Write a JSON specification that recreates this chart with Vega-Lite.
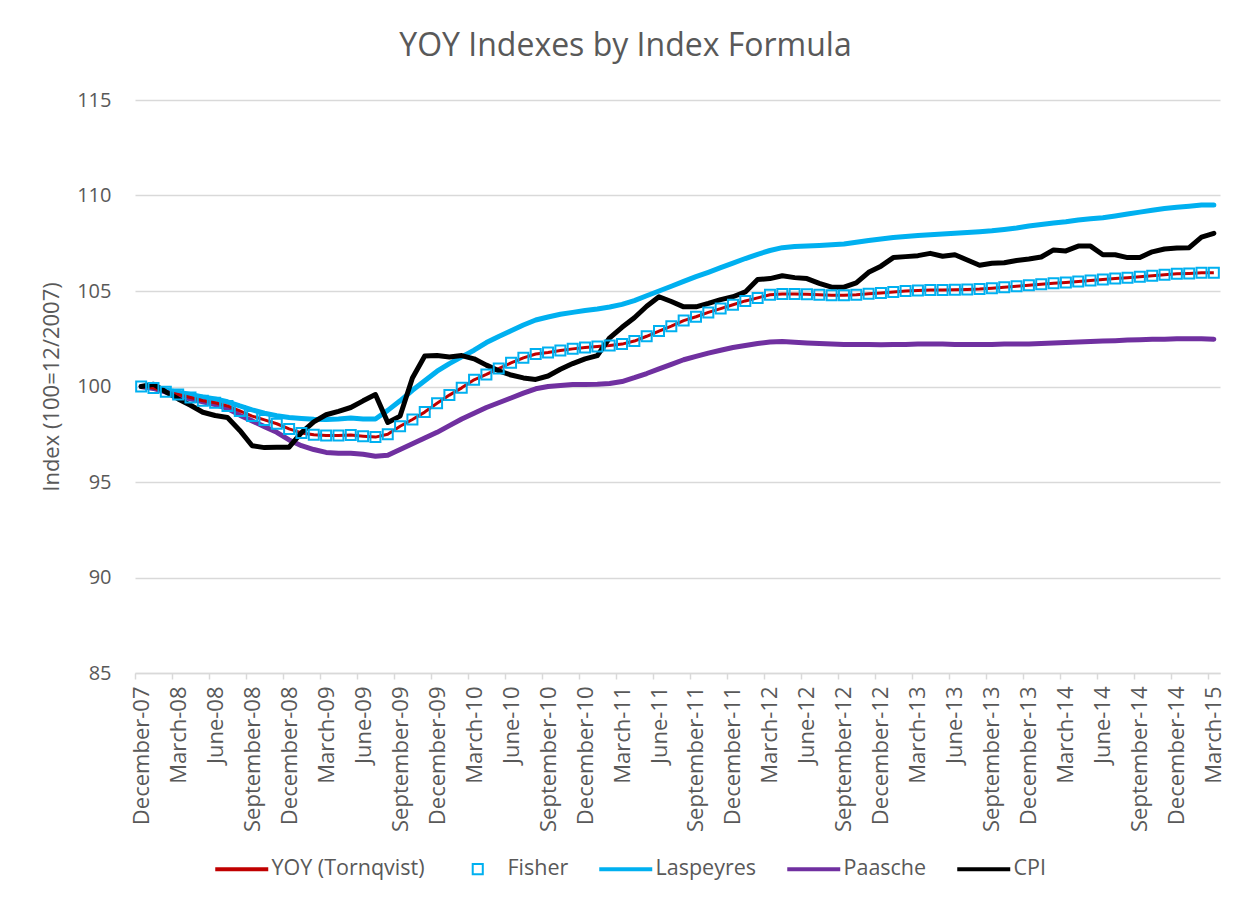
{
  "$schema": "https://vega.github.io/schema/vega-lite/v6.json",
  "width": 1085,
  "height": 573,
  "autosize": {"type": "none"},
  "padding": {"left": 135, "top": 100, "right": 30, "bottom": 234},
  "background": "white",
  "config": {"font": "Open Sans", "view": {"stroke": null}},
  "title": {"text": "YOY Indexes by Index Formula", "fontSize": 32, "fontWeight": "normal", "color": "#595959", "anchor": "middle", "dx": -52, "offset": 27},
  "data": {"values": [
    {"m": "December-07", "YOY (Tornqvist)": 100, "Fisher": 100, "Laspeyres": 100, "Paasche": 100, "CPI": 100},
    {"m": "January-08", "YOY (Tornqvist)": 99.92, "Fisher": 99.92, "Laspeyres": 99.95, "Paasche": 99.9, "CPI": 100.12},
    {"m": "February-08", "YOY (Tornqvist)": 99.72, "Fisher": 99.72, "Laspeyres": 99.82, "Paasche": 99.7, "CPI": 99.72},
    {"m": "March-08", "YOY (Tornqvist)": 99.58, "Fisher": 99.58, "Laspeyres": 99.7, "Paasche": 99.5, "CPI": 99.35},
    {"m": "April-08", "YOY (Tornqvist)": 99.42, "Fisher": 99.42, "Laspeyres": 99.58, "Paasche": 99.35, "CPI": 99.02},
    {"m": "May-08", "YOY (Tornqvist)": 99.25, "Fisher": 99.25, "Laspeyres": 99.45, "Paasche": 99.2, "CPI": 98.65},
    {"m": "June-08", "YOY (Tornqvist)": 99.15, "Fisher": 99.15, "Laspeyres": 99.35, "Paasche": 99.05, "CPI": 98.48},
    {"m": "July-08", "YOY (Tornqvist)": 98.98, "Fisher": 98.98, "Laspeyres": 99.2, "Paasche": 98.85, "CPI": 98.38},
    {"m": "August-08", "YOY (Tornqvist)": 98.72, "Fisher": 98.72, "Laspeyres": 98.98, "Paasche": 98.5, "CPI": 97.7},
    {"m": "September-08", "YOY (Tornqvist)": 98.45, "Fisher": 98.45, "Laspeyres": 98.78, "Paasche": 98.2, "CPI": 96.9},
    {"m": "October-08", "YOY (Tornqvist)": 98.25, "Fisher": 98.25, "Laspeyres": 98.6, "Paasche": 97.9, "CPI": 96.8},
    {"m": "November-08", "YOY (Tornqvist)": 98.05, "Fisher": 98.05, "Laspeyres": 98.47, "Paasche": 97.6, "CPI": 96.82},
    {"m": "December-08", "YOY (Tornqvist)": 97.78, "Fisher": 97.78, "Laspeyres": 98.38, "Paasche": 97.2, "CPI": 96.82},
    {"m": "January-09", "YOY (Tornqvist)": 97.57, "Fisher": 97.57, "Laspeyres": 98.33, "Paasche": 96.9, "CPI": 97.58},
    {"m": "February-09", "YOY (Tornqvist)": 97.47, "Fisher": 97.47, "Laspeyres": 98.28, "Paasche": 96.7, "CPI": 98.15},
    {"m": "March-09", "YOY (Tornqvist)": 97.43, "Fisher": 97.43, "Laspeyres": 98.27, "Paasche": 96.55, "CPI": 98.52},
    {"m": "April-09", "YOY (Tornqvist)": 97.43, "Fisher": 97.43, "Laspeyres": 98.3, "Paasche": 96.5, "CPI": 98.7},
    {"m": "May-09", "YOY (Tornqvist)": 97.46, "Fisher": 97.46, "Laspeyres": 98.35, "Paasche": 96.5, "CPI": 98.9},
    {"m": "June-09", "YOY (Tornqvist)": 97.4, "Fisher": 97.4, "Laspeyres": 98.3, "Paasche": 96.45, "CPI": 99.25},
    {"m": "July-09", "YOY (Tornqvist)": 97.35, "Fisher": 97.35, "Laspeyres": 98.3, "Paasche": 96.35, "CPI": 99.58},
    {"m": "August-09", "YOY (Tornqvist)": 97.5, "Fisher": 97.5, "Laspeyres": 98.75, "Paasche": 96.4, "CPI": 98.12},
    {"m": "September-09", "YOY (Tornqvist)": 97.92, "Fisher": 97.92, "Laspeyres": 99.25, "Paasche": 96.7, "CPI": 98.45},
    {"m": "October-09", "YOY (Tornqvist)": 98.27, "Fisher": 98.27, "Laspeyres": 99.8, "Paasche": 97.0, "CPI": 100.45},
    {"m": "November-09", "YOY (Tornqvist)": 98.66, "Fisher": 98.66, "Laspeyres": 100.3, "Paasche": 97.3, "CPI": 101.6},
    {"m": "December-09", "YOY (Tornqvist)": 99.12, "Fisher": 99.12, "Laspeyres": 100.8, "Paasche": 97.6, "CPI": 101.62},
    {"m": "January-10", "YOY (Tornqvist)": 99.55, "Fisher": 99.55, "Laspeyres": 101.2, "Paasche": 97.95, "CPI": 101.55},
    {"m": "February-10", "YOY (Tornqvist)": 99.93, "Fisher": 99.93, "Laspeyres": 101.55, "Paasche": 98.3, "CPI": 101.62},
    {"m": "March-10", "YOY (Tornqvist)": 100.35, "Fisher": 100.35, "Laspeyres": 101.9, "Paasche": 98.6, "CPI": 101.45},
    {"m": "April-10", "YOY (Tornqvist)": 100.63, "Fisher": 100.63, "Laspeyres": 102.3, "Paasche": 98.9, "CPI": 101.12},
    {"m": "May-10", "YOY (Tornqvist)": 100.94, "Fisher": 100.94, "Laspeyres": 102.62, "Paasche": 99.15, "CPI": 100.82},
    {"m": "June-10", "YOY (Tornqvist)": 101.24, "Fisher": 101.24, "Laspeyres": 102.92, "Paasche": 99.4, "CPI": 100.6},
    {"m": "July-10", "YOY (Tornqvist)": 101.5, "Fisher": 101.5, "Laspeyres": 103.22, "Paasche": 99.65, "CPI": 100.45},
    {"m": "August-10", "YOY (Tornqvist)": 101.7, "Fisher": 101.7, "Laspeyres": 103.48, "Paasche": 99.88, "CPI": 100.37},
    {"m": "September-10", "YOY (Tornqvist)": 101.78, "Fisher": 101.78, "Laspeyres": 103.64, "Paasche": 100.0, "CPI": 100.55},
    {"m": "October-10", "YOY (Tornqvist)": 101.88, "Fisher": 101.88, "Laspeyres": 103.78, "Paasche": 100.05, "CPI": 100.9},
    {"m": "November-10", "YOY (Tornqvist)": 101.97, "Fisher": 101.97, "Laspeyres": 103.88, "Paasche": 100.1, "CPI": 101.2},
    {"m": "December-10", "YOY (Tornqvist)": 102.04, "Fisher": 102.04, "Laspeyres": 103.98, "Paasche": 100.1, "CPI": 101.45},
    {"m": "January-11", "YOY (Tornqvist)": 102.1, "Fisher": 102.1, "Laspeyres": 104.06, "Paasche": 100.12, "CPI": 101.62},
    {"m": "February-11", "YOY (Tornqvist)": 102.15, "Fisher": 102.15, "Laspeyres": 104.16, "Paasche": 100.16, "CPI": 102.55},
    {"m": "March-11", "YOY (Tornqvist)": 102.22, "Fisher": 102.22, "Laspeyres": 104.3, "Paasche": 100.26, "CPI": 103.1},
    {"m": "April-11", "YOY (Tornqvist)": 102.38, "Fisher": 102.38, "Laspeyres": 104.5, "Paasche": 100.46, "CPI": 103.6},
    {"m": "May-11", "YOY (Tornqvist)": 102.63, "Fisher": 102.63, "Laspeyres": 104.75, "Paasche": 100.68, "CPI": 104.2},
    {"m": "June-11", "YOY (Tornqvist)": 102.9, "Fisher": 102.9, "Laspeyres": 105.0, "Paasche": 100.92, "CPI": 104.7},
    {"m": "July-11", "YOY (Tornqvist)": 103.16, "Fisher": 103.16, "Laspeyres": 105.25, "Paasche": 101.16, "CPI": 104.45},
    {"m": "August-11", "YOY (Tornqvist)": 103.45, "Fisher": 103.45, "Laspeyres": 105.5, "Paasche": 101.4, "CPI": 104.17},
    {"m": "September-11", "YOY (Tornqvist)": 103.65, "Fisher": 103.65, "Laspeyres": 105.75, "Paasche": 101.58, "CPI": 104.17},
    {"m": "October-11", "YOY (Tornqvist)": 103.88, "Fisher": 103.88, "Laspeyres": 105.98, "Paasche": 101.75, "CPI": 104.35},
    {"m": "November-11", "YOY (Tornqvist)": 104.08, "Fisher": 104.08, "Laspeyres": 106.22, "Paasche": 101.9, "CPI": 104.55},
    {"m": "December-11", "YOY (Tornqvist)": 104.28, "Fisher": 104.28, "Laspeyres": 106.46, "Paasche": 102.04, "CPI": 104.7},
    {"m": "January-12", "YOY (Tornqvist)": 104.48, "Fisher": 104.48, "Laspeyres": 106.7, "Paasche": 102.15, "CPI": 104.95},
    {"m": "February-12", "YOY (Tornqvist)": 104.64, "Fisher": 104.64, "Laspeyres": 106.92, "Paasche": 102.25, "CPI": 105.6},
    {"m": "March-12", "YOY (Tornqvist)": 104.8, "Fisher": 104.8, "Laspeyres": 107.12, "Paasche": 102.33, "CPI": 105.65},
    {"m": "April-12", "YOY (Tornqvist)": 104.84, "Fisher": 104.84, "Laspeyres": 107.27, "Paasche": 102.36, "CPI": 105.8},
    {"m": "May-12", "YOY (Tornqvist)": 104.84, "Fisher": 104.84, "Laspeyres": 107.33, "Paasche": 102.32, "CPI": 105.7},
    {"m": "June-12", "YOY (Tornqvist)": 104.83, "Fisher": 104.83, "Laspeyres": 107.35, "Paasche": 102.28, "CPI": 105.65},
    {"m": "July-12", "YOY (Tornqvist)": 104.8, "Fisher": 104.8, "Laspeyres": 107.38, "Paasche": 102.25, "CPI": 105.4},
    {"m": "August-12", "YOY (Tornqvist)": 104.78, "Fisher": 104.78, "Laspeyres": 107.42, "Paasche": 102.22, "CPI": 105.2},
    {"m": "September-12", "YOY (Tornqvist)": 104.78, "Fisher": 104.78, "Laspeyres": 107.46, "Paasche": 102.2, "CPI": 105.2},
    {"m": "October-12", "YOY (Tornqvist)": 104.8, "Fisher": 104.8, "Laspeyres": 107.55, "Paasche": 102.2, "CPI": 105.42},
    {"m": "November-12", "YOY (Tornqvist)": 104.85, "Fisher": 104.85, "Laspeyres": 107.64, "Paasche": 102.2, "CPI": 105.98},
    {"m": "December-12", "YOY (Tornqvist)": 104.9, "Fisher": 104.9, "Laspeyres": 107.72, "Paasche": 102.18, "CPI": 106.3},
    {"m": "January-13", "YOY (Tornqvist)": 104.95, "Fisher": 104.95, "Laspeyres": 107.8, "Paasche": 102.2, "CPI": 106.75},
    {"m": "February-13", "YOY (Tornqvist)": 105.0, "Fisher": 105.0, "Laspeyres": 107.85, "Paasche": 102.2, "CPI": 106.8},
    {"m": "March-13", "YOY (Tornqvist)": 105.02, "Fisher": 105.02, "Laspeyres": 107.9, "Paasche": 102.22, "CPI": 106.85},
    {"m": "April-13", "YOY (Tornqvist)": 105.05, "Fisher": 105.05, "Laspeyres": 107.95, "Paasche": 102.22, "CPI": 106.97},
    {"m": "May-13", "YOY (Tornqvist)": 105.05, "Fisher": 105.05, "Laspeyres": 107.98, "Paasche": 102.22, "CPI": 106.82},
    {"m": "June-13", "YOY (Tornqvist)": 105.07, "Fisher": 105.07, "Laspeyres": 108.02, "Paasche": 102.2, "CPI": 106.9},
    {"m": "July-13", "YOY (Tornqvist)": 105.08, "Fisher": 105.08, "Laspeyres": 108.06, "Paasche": 102.2, "CPI": 106.62},
    {"m": "August-13", "YOY (Tornqvist)": 105.1, "Fisher": 105.1, "Laspeyres": 108.1, "Paasche": 102.2, "CPI": 106.35},
    {"m": "September-13", "YOY (Tornqvist)": 105.15, "Fisher": 105.15, "Laspeyres": 108.15, "Paasche": 102.2, "CPI": 106.45},
    {"m": "October-13", "YOY (Tornqvist)": 105.2, "Fisher": 105.2, "Laspeyres": 108.22, "Paasche": 102.22, "CPI": 106.48},
    {"m": "November-13", "YOY (Tornqvist)": 105.25, "Fisher": 105.25, "Laspeyres": 108.3, "Paasche": 102.22, "CPI": 106.6},
    {"m": "December-13", "YOY (Tornqvist)": 105.3, "Fisher": 105.3, "Laspeyres": 108.4, "Paasche": 102.23, "CPI": 106.68},
    {"m": "January-14", "YOY (Tornqvist)": 105.35, "Fisher": 105.35, "Laspeyres": 108.48, "Paasche": 102.25, "CPI": 106.78},
    {"m": "February-14", "YOY (Tornqvist)": 105.4, "Fisher": 105.4, "Laspeyres": 108.56, "Paasche": 102.28, "CPI": 107.15},
    {"m": "March-14", "YOY (Tornqvist)": 105.45, "Fisher": 105.45, "Laspeyres": 108.63, "Paasche": 102.3, "CPI": 107.1},
    {"m": "April-14", "YOY (Tornqvist)": 105.5, "Fisher": 105.5, "Laspeyres": 108.72, "Paasche": 102.33, "CPI": 107.35},
    {"m": "May-14", "YOY (Tornqvist)": 105.55, "Fisher": 105.55, "Laspeyres": 108.78, "Paasche": 102.36, "CPI": 107.35},
    {"m": "June-14", "YOY (Tornqvist)": 105.6, "Fisher": 105.6, "Laspeyres": 108.84, "Paasche": 102.38, "CPI": 106.9},
    {"m": "July-14", "YOY (Tornqvist)": 105.65, "Fisher": 105.65, "Laspeyres": 108.93, "Paasche": 102.4, "CPI": 106.9},
    {"m": "August-14", "YOY (Tornqvist)": 105.7, "Fisher": 105.7, "Laspeyres": 109.03, "Paasche": 102.43, "CPI": 106.75},
    {"m": "September-14", "YOY (Tornqvist)": 105.75, "Fisher": 105.75, "Laspeyres": 109.13, "Paasche": 102.45, "CPI": 106.75},
    {"m": "October-14", "YOY (Tornqvist)": 105.8, "Fisher": 105.8, "Laspeyres": 109.23, "Paasche": 102.47, "CPI": 107.05},
    {"m": "November-14", "YOY (Tornqvist)": 105.85, "Fisher": 105.85, "Laspeyres": 109.32, "Paasche": 102.48, "CPI": 107.2},
    {"m": "December-14", "YOY (Tornqvist)": 105.9, "Fisher": 105.9, "Laspeyres": 109.39, "Paasche": 102.5, "CPI": 107.25},
    {"m": "January-15", "YOY (Tornqvist)": 105.92, "Fisher": 105.92, "Laspeyres": 109.44, "Paasche": 102.5, "CPI": 107.27},
    {"m": "February-15", "YOY (Tornqvist)": 105.95, "Fisher": 105.95, "Laspeyres": 109.5, "Paasche": 102.5, "CPI": 107.82},
    {"m": "March-15", "YOY (Tornqvist)": 105.96, "Fisher": 105.96, "Laspeyres": 109.5, "Paasche": 102.48, "CPI": 108.02}
  ]},
  "transform": [{"fold": ["YOY (Tornqvist)", "Fisher", "Laspeyres", "Paasche", "CPI"], "as": ["series", "value"]}],
  "encoding": {
    "x": {
      "field": "m", "type": "ordinal", "sort": null,
      "scale": {"type": "point", "padding": 0.5},
      "axis": {
        "title": null,
        "values": ["December-07", "March-08", "June-08", "September-08", "December-08", "March-09", "June-09", "September-09", "December-09", "March-10", "June-10", "September-10", "December-10", "March-11", "June-11", "September-11", "December-11", "March-12", "June-12", "September-12", "December-12", "March-13", "June-13", "September-13", "December-13", "March-14", "June-14", "September-14", "December-14", "March-15"],
        "labelAngle": 270, "labelFontSize": 22, "labelColor": "#595959", "labelPadding": 7,
        "labelOverlap": false, "labelBound": false, "labelFlush": false,
        "tickOffset": -6.17, "labelOffset": 6.17, "tickSize": 6, "tickColor": "#D9D9D9", "tickWidth": 1.5,
        "domainColor": "#D9D9D9", "domainWidth": 1.5, "grid": false
      }
    },
    "y": {
      "field": "value", "type": "quantitative",
      "scale": {"domain": [85, 115], "nice": false, "zero": false},
      "axis": {
        "title": "Index (100=12/2007)", "values": [85, 90, 95, 100, 105, 110, 115],
        "domain": false, "ticks": false, "grid": true, "gridColor": "#D9D9D9", "gridWidth": 1.5,
        "labelFontSize": 20, "labelColor": "#595959", "labelPadding": 24,
        "titleFontSize": 22, "titleColor": "#595959", "titleFontWeight": "normal", "titlePadding": 13
      }
    },
    "color": {
      "field": "series", "type": "nominal",
      "scale": {"domain": ["YOY (Tornqvist)", "Fisher", "Laspeyres", "Paasche", "CPI"], "range": ["#C00000", "#00B0F0", "#00B0F0", "#7030A0", "#000000"]},
      "legend": {
        "title": null, "orient": "none", "legendX": 96, "legendY": 758, "direction": "horizontal",
        "labelFontSize": 21.5, "labelColor": "#595959", "symbolSize": 2809, "symbolStrokeWidth": 4,
        "columnPadding": 22, "labelOffset": 19,
        "encode": {"symbols": {"update": {"strokeWidth": {"signal": "datum.value === 'Fisher' ? 2 : 4"}}}}
      }
    }
  },
  "layer": [
    {
      "transform": [{"filter": "datum.series === 'Laspeyres' || datum.series === 'Paasche'"}],
      "mark": {"type": "line", "strokeWidth": 5, "strokeJoin": "round", "strokeCap": "round"}
    },
    {
      "transform": [{"filter": "datum.series === 'YOY (Tornqvist)'"}],
      "mark": {"type": "line", "strokeWidth": 3, "strokeJoin": "round"}
    },
    {
      "transform": [{"filter": "datum.series === 'CPI'"}],
      "mark": {"type": "line", "strokeWidth": 5, "strokeJoin": "round", "strokeCap": "round"}
    },
    {
      "transform": [{"filter": "datum.series === 'Fisher'"}],
      "mark": {"type": "point", "filled": false, "size": 2770, "strokeWidth": 2, "opacity": 1},
      "encoding": {
        "shape": {
          "field": "series", "type": "nominal",
          "scale": {"domain": ["YOY (Tornqvist)", "Fisher", "Laspeyres", "Paasche", "CPI"], "range": ["M-1,0H1", "M-1,0M1,0M-0.19,-0.19H0.19V0.19H-0.19Z", "M-1,0H1", "M-1,0H1", "M-1,0H1"]},
          "legend": {
            "title": null, "orient": "none", "legendX": 96, "legendY": 758, "direction": "horizontal",
            "labelFontSize": 21.5, "labelColor": "#595959", "symbolSize": 2809, "symbolStrokeWidth": 4,
            "columnPadding": 22, "labelOffset": 19,
            "encode": {"symbols": {"update": {"strokeWidth": {"signal": "datum.value === 'Fisher' ? 2 : 4"}}}}
          }
        }
      }
    }
  ]
}
